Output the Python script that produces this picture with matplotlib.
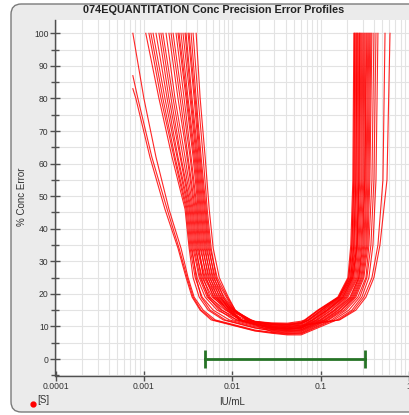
import matplotlib
matplotlib.use("Agg")
import matplotlib.pyplot as plt
from matplotlib.patches import FancyBboxPatch
from matplotlib.lines import Line2D
from matplotlib.ticker import MultipleLocator, LogLocator, NullFormatter, FixedLocator, FixedFormatter

plt.rcParams['font.family'] = ['Liberation Sans', 'DejaVu Sans']

TITLE = "074EQUANTITATION Conc Precision Error Profiles"
X_LABEL = "IU/mL"
Y_LABEL = "% Conc Error"
LEGEND_LABEL = "[S]"
X_TICKS = [0.0001, 0.001, 0.01, 0.1, 1]
X_TICK_LABELS = ["0.0001", "0.001", "0.01", "0.1", "1"]
Y_TICKS = list(range(0, 101, 10))

# shared % error levels for the left (low conc) and right (high conc) branches
LEFT_Y = [100, 80, 62, 46, 34, 25, 19, 15, 12]
BOTTOM_X = [0.018, 0.028, 0.042, 0.06]
RIGHT_Y = [12, 15, 19, 25, 35, 55, 100]

# % error of the first (lowest concentration) point of each profile
TOP_Y = [100, 87, 83] + [100] * 24

LEFT_X = [
    [7.50e-4, 1.00e-3, 1.37e-3, 1.92e-3, 2.63e-3, 3.16e-3, 3.70e-3, 4.68e-3, 6.41e-3],
    [7.50e-4, 8.55e-4, 1.23e-3, 1.83e-3, 2.50e-3, 3.08e-3, 3.60e-3, 4.44e-3, 6.08e-3],
    [7.50e-4, 8.11e-4, 1.17e-3, 1.73e-3, 2.43e-3, 3.00e-3, 3.51e-3, 4.33e-3, 5.77e-3],
    [1.05e-3, 1.48e-3, 2.08e-3, 2.92e-3, 3.25e-3, 3.60e-3, 4.22e-3, 5.34e-3, 7.90e-3],
    [1.14e-3, 1.56e-3, 2.19e-3, 3.00e-3, 3.33e-3, 3.80e-3, 4.56e-3, 6.08e-3, 9.25e-3],
    [1.20e-3, 1.64e-3, 2.25e-3, 3.08e-3, 3.42e-3, 4.00e-3, 4.93e-3, 6.75e-3, 1.14e-2],
    [1.27e-3, 1.73e-3, 2.37e-3, 3.16e-3, 3.51e-3, 3.90e-3, 4.44e-3, 5.62e-3, 8.33e-3],
    [1.37e-3, 1.83e-3, 2.43e-3, 3.25e-3, 3.60e-3, 4.22e-3, 5.20e-3, 7.50e-3, 1.27e-2],
    [1.48e-3, 1.92e-3, 2.57e-3, 3.33e-3, 3.70e-3, 4.33e-3, 5.48e-3, 8.33e-3, 1.41e-2],
    [1.56e-3, 2.03e-3, 2.63e-3, 3.42e-3, 3.80e-3, 4.56e-3, 5.93e-3, 9.25e-3, 1.56e-2],
    [1.64e-3, 2.14e-3, 2.77e-3, 3.51e-3, 3.90e-3, 4.44e-3, 5.34e-3, 7.12e-3, 1.03e-2],
    [1.78e-3, 2.25e-3, 2.92e-3, 3.60e-3, 4.00e-3, 4.81e-3, 6.24e-3, 9.74e-3, 1.48e-2],
    [1.92e-3, 2.43e-3, 3.08e-3, 3.70e-3, 4.11e-3, 4.93e-3, 6.58e-3, 1.00e-2, 1.60e-2],
    [2.03e-3, 2.57e-3, 3.16e-3, 3.80e-3, 4.22e-3, 4.68e-3, 5.62e-3, 7.70e-3, 1.11e-2],
    [2.14e-3, 2.70e-3, 3.33e-3, 3.90e-3, 4.33e-3, 5.20e-3, 6.93e-3, 1.03e-2, 1.64e-2],
    [2.31e-3, 2.85e-3, 3.42e-3, 4.00e-3, 4.44e-3, 5.06e-3, 6.08e-3, 8.55e-3, 1.20e-2],
    [2.43e-3, 3.00e-3, 3.60e-3, 4.11e-3, 4.56e-3, 5.48e-3, 7.31e-3, 1.03e-2, 1.52e-2],
    [2.50e-3, 3.08e-3, 3.70e-3, 4.22e-3, 4.68e-3, 5.34e-3, 6.41e-3, 9.01e-3, 1.27e-2],
    [2.63e-3, 3.16e-3, 3.80e-3, 4.33e-3, 4.81e-3, 5.77e-3, 7.70e-3, 1.05e-2, 1.60e-2],
    [2.77e-3, 3.33e-3, 3.90e-3, 4.44e-3, 4.93e-3, 5.62e-3, 6.75e-3, 8.77e-3, 1.20e-2],
    [2.92e-3, 3.42e-3, 4.00e-3, 4.56e-3, 5.06e-3, 6.08e-3, 8.11e-3, 1.05e-2, 1.48e-2],
    [3.00e-3, 3.51e-3, 4.11e-3, 4.68e-3, 5.20e-3, 5.93e-3, 7.12e-3, 9.49e-3, 1.27e-2],
    [3.16e-3, 3.70e-3, 4.22e-3, 4.81e-3, 5.34e-3, 6.41e-3, 8.55e-3, 1.05e-2, 1.44e-2],
    [3.25e-3, 3.80e-3, 4.33e-3, 4.93e-3, 5.48e-3, 6.24e-3, 7.50e-3, 9.25e-3, 1.23e-2],
    [3.42e-3, 3.90e-3, 4.44e-3, 5.06e-3, 5.62e-3, 6.75e-3, 8.77e-3, 1.08e-2, 1.56e-2],
    [3.60e-3, 4.11e-3, 4.68e-3, 5.20e-3, 5.77e-3, 6.58e-3, 7.90e-3, 9.74e-3, 1.27e-2],
    [3.90e-3, 4.33e-3, 4.93e-3, 5.48e-3, 6.08e-3, 7.12e-3, 9.01e-3, 1.08e-2, 1.44e-2],
]

BOTTOM_Y = [
    [8.9, 8.2, 7.8, 7.9],
    [8.7, 8.1, 7.6, 7.7],
    [8.6, 7.9, 7.4, 7.4],
    [9.5, 8.8, 8.4, 8.6],
    [9.9, 9.1, 8.8, 9.0],
    [10.5, 9.5, 9.2, 9.5],
    [9.6, 8.6, 8.2, 8.4],
    [10.8, 9.9, 9.6, 10.0],
    [11.1, 9.7, 9.4, 9.7],
    [11.4, 10.0, 9.8, 10.2],
    [10.2, 9.0, 8.6, 8.8],
    [11.3, 10.6, 10.4, 10.9],
    [11.5, 10.8, 10.6, 11.1],
    [10.5, 8.4, 8.0, 8.1],
    [11.6, 10.9, 10.8, 11.3],
    [10.7, 9.3, 9.0, 9.3],
    [11.4, 10.2, 10.0, 10.4],
    [10.8, 9.5, 9.2, 9.5],
    [11.5, 11.1, 11.0, 11.6],
    [10.7, 9.1, 8.8, 9.0],
    [11.3, 10.4, 10.2, 10.7],
    [10.8, 9.7, 9.4, 9.7],
    [11.2, 10.2, 10.0, 10.4],
    [10.8, 9.5, 9.2, 9.5],
    [11.4, 10.8, 10.6, 11.1],
    [10.8, 9.9, 9.6, 10.0],
    [11.2, 10.6, 10.4, 10.9],
]

RIGHT_X = [
    [0.133, 0.192, 0.263, 0.325, 0.351, 0.380, 0.400],
    [0.141, 0.208, 0.277, 0.333, 0.370, 0.400, 0.422],
    [0.152, 0.225, 0.292, 0.351, 0.390, 0.422, 0.444],
    [0.114, 0.169, 0.237, 0.292, 0.325, 0.342, 0.360],
    [0.103, 0.148, 0.219, 0.270, 0.300, 0.316, 0.333],
    [0.0901, 0.130, 0.192, 0.250, 0.270, 0.292, 0.300],
    [0.120, 0.173, 0.243, 0.300, 0.333, 0.351, 0.370],
    [0.0811, 0.117, 0.178, 0.231, 0.257, 0.270, 0.277],
    [0.0833, 0.120, 0.183, 0.237, 0.257, 0.277, 0.285],
    [0.160, 0.237, 0.308, 0.380, 0.444, 0.506, 0.534],
    [0.111, 0.160, 0.231, 0.285, 0.316, 0.333, 0.351],
    [0.0731, 0.103, 0.164, 0.219, 0.237, 0.250, 0.257],
    [0.0675, 0.0949, 0.160, 0.208, 0.225, 0.237, 0.243],
    [0.123, 0.183, 0.250, 0.308, 0.342, 0.360, 0.380],
    [0.0675, 0.0949, 0.160, 0.208, 0.225, 0.237, 0.243],
    [0.100, 0.144, 0.214, 0.270, 0.292, 0.316, 0.325],
    [0.164, 0.250, 0.325, 0.400, 0.468, 0.562, 0.608],
    [0.0925, 0.133, 0.197, 0.257, 0.277, 0.300, 0.308],
    [0.0658, 0.0925, 0.156, 0.203, 0.219, 0.231, 0.237],
    [0.108, 0.156, 0.225, 0.277, 0.308, 0.325, 0.342],
    [0.0750, 0.108, 0.169, 0.225, 0.243, 0.257, 0.263],
    [0.0877, 0.123, 0.187, 0.243, 0.263, 0.285, 0.292],
    [0.0790, 0.111, 0.173, 0.225, 0.250, 0.263, 0.270],
    [0.0974, 0.141, 0.203, 0.263, 0.285, 0.308, 0.316],
    [0.0712, 0.100, 0.160, 0.214, 0.231, 0.243, 0.250],
    [0.0811, 0.117, 0.178, 0.231, 0.257, 0.270, 0.277],
    [0.0731, 0.103, 0.164, 0.219, 0.237, 0.250, 0.257],
]

# working range bar
RANGE_LO, RANGE_HI, RANGE_Y = 0.0049, 0.315, 0

W, H = 409, 415
fig = plt.figure(figsize=(W / 100, H / 100), dpi=100)
fig.patch.set_facecolor('white')


def fx(px):
    return px / W


def fy(py):
    return 1 - py / H


panel = FancyBboxPatch((fx(11), fy(412)), fx(460) - fx(11), fy(4) - fy(412),
                       boxstyle="round,pad=0,rounding_size=0.025",
                       transform=fig.transFigure, fc='#ebebeb', ec='#7a7a7a',
                       lw=1.0, zorder=-5)
fig.add_artist(panel)

ax_left, ax_right, ax_top, ax_bot = 55.5, 421, 20, 376
ax = fig.add_axes([fx(ax_left), fy(ax_bot), fx(ax_right) - fx(ax_left), fy(ax_top) - fy(ax_bot)])
ax.set_facecolor('white')
ax.set_xscale('log')
decade_px = 88.4
ax.set_xlim(1e-4, 10 ** ((ax_right - ax_left) / decade_px - 4))
px_per_unit = 3.257
ax.set_ylim(-(ax_bot - 359) / px_per_unit, (359 - ax_top) / px_per_unit)

for i in range(len(LEFT_X)):
    xs = LEFT_X[i] + BOTTOM_X + RIGHT_X[i]
    ys = [TOP_Y[i]] + LEFT_Y[1:] + BOTTOM_Y[i] + RIGHT_Y
    ax.plot(xs, ys, color='#ff0000', lw=0.8, alpha=0.85, zorder=3)

ax.plot([RANGE_LO, RANGE_HI], [RANGE_Y, RANGE_Y], color='#267326', lw=2,
        marker='|', ms=13, mew=2, zorder=4)

for s in ['top', 'right']:
    ax.spines[s].set_visible(False)
for s in ['left', 'bottom']:
    ax.spines[s].set_color('#505050')
    ax.spines[s].set_linewidth(1.0)

ax.xaxis.set_major_locator(FixedLocator(X_TICKS))
ax.xaxis.set_major_formatter(FixedFormatter(X_TICK_LABELS))
ax.xaxis.set_minor_locator(LogLocator(base=10, subs=[2, 3, 4, 5, 6, 7, 8, 9], numticks=20))
ax.xaxis.set_minor_formatter(NullFormatter())
ax.yaxis.set_major_locator(FixedLocator(Y_TICKS))
ax.yaxis.set_minor_locator(MultipleLocator(5))

ax.tick_params(axis='both', which='major', direction='inout', length=7, width=1,
               color='#505050', labelcolor='#333333', labelsize=6.2, pad=1.5)
ax.tick_params(axis='x', which='major', pad=1.0)
ax.tick_params(axis='y', which='minor', direction='inout', length=6, width=1, color='#505050')
ax.tick_params(axis='x', which='minor', length=0)

ax.set_axisbelow(True)
ax.grid(True, which='both', color='#e3e3e3', lw=0.8)

fig.text(fx(214), fy(10), TITLE, ha='center', va='center', fontsize=7.8,
         fontweight='bold', color='#222222')
fig.text(fx(22), fy(197), Y_LABEL, ha='center', va='center', rotation=90,
         fontsize=7, color='#333333')
fig.text(fx(232), fy(402), X_LABEL, ha='center', va='center', fontsize=7,
         color='#333333')
fig.add_artist(Line2D([fx(33)], [fy(404)], marker='o', color='#ff0000', ms=3.5,
                      transform=fig.transFigure))
fig.text(fx(37), fy(400), LEGEND_LABEL, ha='left', va='center', fontsize=7,
         color='#333333')

fig.savefig('out.png', dpi=100)
